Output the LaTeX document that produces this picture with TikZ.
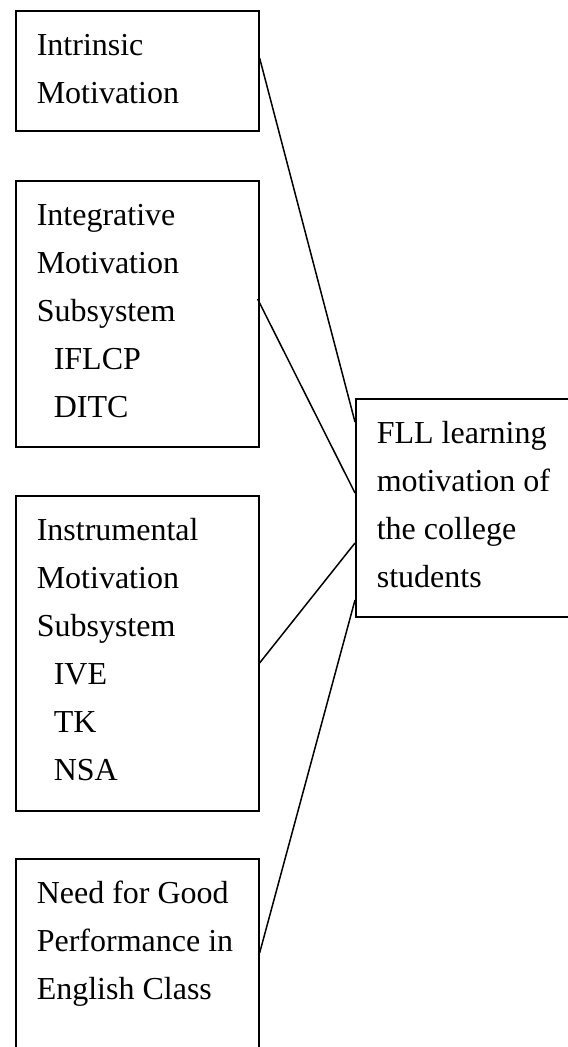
\documentclass[tikz,border=0pt]{standalone}
\usepackage{fontspec}
\setmainfont{Liberation Serif}
\usepackage{tikz}
\usetikzlibrary{calc}

\begin{document}
\begin{tikzpicture}[
  x=0.5pt, y=-0.5pt,
  factor/.style={draw, line width=0.8pt, anchor=north west, align=flush left, inner xsep=10.5pt, inner ysep=0pt, text width=100.5pt, text height=22.5pt, font=\fontsize{16}{24}\selectfont},
  result/.style={factor, text width=101.5pt},
  link/.style={line width=0.75pt}
]
\useasboundingbox (0,0) rectangle (567,1047);
\node[factor, text depth=37.5pt] (intr) at (15,10) {Intrinsic\\Motivation};
\node[factor, text depth=110.5pt] (integ) at (15,180) {Integrative\\Motivation\\Subsystem\\\hspace*{8.5pt}IFLCP\\\hspace*{8.5pt}DITC};
\node[factor, text depth=135pt] (instr) at (15,495) {Instrumental\\Motivation\\Subsystem\\\hspace*{8.5pt}IVE\\\hspace*{8.5pt}TK\\\hspace*{8.5pt}NSA};
\node[factor, text depth=98.5pt] (need) at (15,858) {Need for Good\\Performance in\\English Class};
\node[result, text depth=86.5pt] (fll) at (355,398) {FLL learning\\motivation of\\the college\\students};
\draw[link] ($(intr.north east)+(0,48)$) -- ($(fll.north west)+(0,24)$);
\draw[link] ($(integ.north east)+(-2,119)$) -- ($(fll.north west)+(0,95)$);
\draw[link] ($(instr.north east)+(0,168)$) -- ($(fll.north west)+(0,145)$);
\draw[link] ($(need.north east)+(0,95)$) -- ($(fll.north west)+(0,202)$);
\end{tikzpicture}
\end{document}
